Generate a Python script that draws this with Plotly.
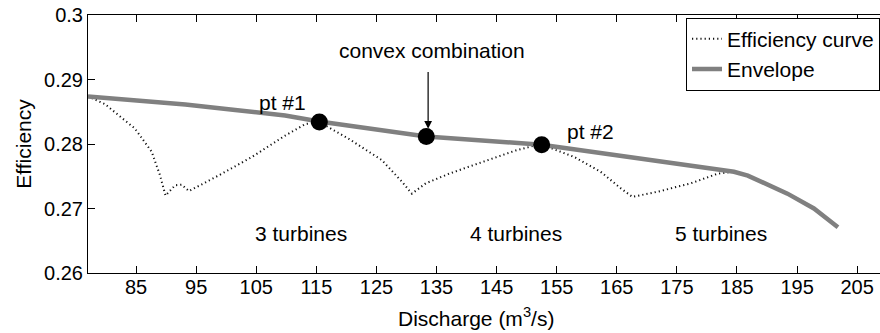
import plotly.graph_objects as go

# Efficiency curve (dotted)
eff_x = [77, 79.8, 84.8, 87.6, 89.0, 89.9, 91.5, 92.6, 93.8, 98.7, 104.3, 109.8, 113.2, 115.5,
         120.4, 125.9, 129.3, 130.9, 133.2, 137.1, 142.6, 148.2, 151.5, 152.5,
         157.9, 162.3, 165.7, 167.6, 171.8, 177.3, 181.8, 184.5]
eff_y = [0.2874, 0.2862, 0.2824, 0.2788, 0.2751, 0.2720, 0.2736, 0.2737, 0.2727, 0.2751, 0.2780, 0.2813, 0.2831, 0.2834,
         0.2808, 0.2775, 0.2741, 0.2723, 0.2739, 0.2754, 0.2772, 0.2790, 0.2798, 0.2799,
         0.2780, 0.2757, 0.2731, 0.2718, 0.2726, 0.2739, 0.2754, 0.2757]

# Envelope
env_x = [77, 84.8, 93.2, 101.5, 109.8, 115.5, 133.3, 152.5, 169.0, 184.5, 186.8, 193.4, 197.8, 201.8]
env_y = [0.28737, 0.28683, 0.28613, 0.28528, 0.28443, 0.2835, 0.28118, 0.27989, 0.2777, 0.2757, 0.2751, 0.2723, 0.2700, 0.2671]

# Highlighted points
pt_x = [115.5, 133.3, 152.5]
pt_y = [0.2834, 0.28118, 0.27989]

x_ticks = [85, 95, 105, 115, 125, 135, 145, 155, 165, 175, 185, 195, 205]
y_ticks = [0.26, 0.27, 0.28, 0.29, 0.30]
y_ticktext = ["0.26", "0.27", "0.28", "0.29", "0.3"]

FONT = "Liberation Sans, Arial, Helvetica, sans-serif"
TXT = 21

fig = go.Figure()
fig.add_trace(go.Scatter(x=eff_x, y=eff_y, mode="lines", name="Efficiency curve",
                         line=dict(color="#111111", width=2, dash="1.2px,3px")))
fig.add_trace(go.Scatter(x=env_x, y=env_y, mode="lines", name="Envelope",
                         line=dict(color="#808080", width=4.5)))
fig.add_trace(go.Scatter(x=pt_x, y=pt_y, mode="markers", showlegend=False,
                         marker=dict(color="black", size=17)))

annos = [
    dict(x=109.3, y=0.2864, text="pt #1"),
    dict(x=160.7, y=0.2820, text="pt #2"),
    dict(x=134.3, y=0.2945, text="convex combination"),
    dict(x=112.4, y=0.26615, text="3 turbines"),
    dict(x=148.3, y=0.26615, text="4 turbines"),
    dict(x=182.4, y=0.26615, text="5 turbines"),
]
for a in annos:
    fig.add_annotation(x=a["x"], y=a["y"], text=a["text"], showarrow=False,
                       font=dict(size=TXT, color="black", family=FONT),
                       xanchor="center", yanchor="middle")

fig.add_annotation(x=133.6, y=0.28237, ax=133.6, ay=0.2914, axref="x", ayref="y",
                   text="", showarrow=True, arrowhead=2, arrowsize=1.3, arrowwidth=1.2,
                   arrowcolor="black")

fig.update_layout(
    width=880, height=333,
    margin=dict(l=88, r=0, t=14.5, b=60.3),
    paper_bgcolor="white", plot_bgcolor="white",
    font=dict(family=FONT, size=20, color="black"),
    showlegend=True,
    legend=dict(x=1, xanchor="right", y=0.99, yanchor="top",
                bgcolor="white", bordercolor="black", borderwidth=1,
                font=dict(size=TXT, family=FONT, color="black"),
                tracegroupgap=0, itemwidth=30),
    xaxis=dict(range=[77, 208.8], tickvals=x_ticks, ticks="inside", ticklen=7,
               tickcolor="black", showline=True, linecolor="black", linewidth=1,
               mirror="ticks", showgrid=False, zeroline=False, ticklabelstandoff=-4,
               tickfont=dict(size=20, family=FONT, color="black")),
    yaxis=dict(range=[0.26, 0.30], tickvals=y_ticks, ticktext=y_ticktext,
               ticks="inside", ticklen=7, tickcolor="black", showline=True,
               linecolor="black", linewidth=1, mirror=False, showgrid=False,
               zeroline=False, tickfont=dict(size=20, family=FONT, color="black"),
               title=dict(text="Efficiency", font=dict(size=TXT, family=FONT), standoff=6)),
)
fig.add_annotation(xref="paper", yref="paper", x=(476 - 88) / 792, y=-(332 - 272.7) / 258.2,
                   text="Discharge (m<sup>3</sup>/s)", showarrow=False,
                   font=dict(size=TXT, family=FONT, color="black"),
                   xanchor="center", yanchor="bottom")

fig.write_html("out.html")
